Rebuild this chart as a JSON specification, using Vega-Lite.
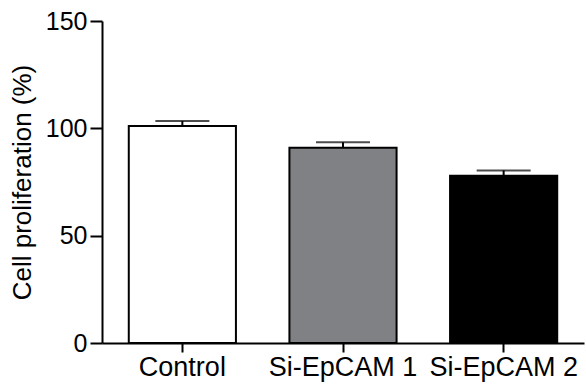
{
  "$schema": "https://vega.github.io/schema/vega-lite/v6.json",
  "autosize": "none",
  "padding": {"left": 102, "top": 21, "right": 2, "bottom": 46},
  "width": 482,
  "height": 322,
  "background": "white",
  "config": {
    "view": {"stroke": null},
    "font": "Liberation Sans",
    "axis": {"grid": false, "domainColor": "black", "domainWidth": 2, "tickColor": "black", "tickWidth": 2, "labelColor": "black", "titleColor": "black", "labelFont": "Liberation Sans", "titleFont": "Liberation Sans", "titleFontWeight": "normal"}
  },
  "data": {
    "values": [
      {"group": "Control", "mean": 101.1, "upper": 103.4},
      {"group": "Si-EpCAM 1", "mean": 91.0, "upper": 93.5},
      {"group": "Si-EpCAM 2", "mean": 77.9, "upper": 80.4}
    ]
  },
  "encoding": {
    "x": {
      "field": "group",
      "type": "nominal",
      "sort": null,
      "scale": {"paddingInner": 0.333, "paddingOuter": 0.1667},
      "axis": {"title": null, "labelAngle": 0, "labelFontSize": 27, "tickSize": 9, "labelPadding": 2}
    }
  },
  "layer": [
    {
      "mark": {"type": "rule", "stroke": "black", "strokeWidth": 2},
      "encoding": {
        "y": {"field": "mean", "type": "quantitative"},
        "y2": {"field": "upper"}
      }
    },
    {
      "mark": {"type": "tick", "color": "black", "size": 54, "thickness": 2, "orient": "horizontal"},
      "encoding": {
        "y": {"field": "upper", "type": "quantitative"}
      }
    },
    {
      "mark": {"type": "bar", "stroke": "black", "strokeWidth": 2},
      "encoding": {
        "y": {
          "field": "mean",
          "type": "quantitative",
          "scale": {"domain": [0, 150], "nice": false},
          "axis": {"title": "Cell proliferation (%)", "values": [0, 50, 100, 150], "labelFontSize": 25, "titleFontSize": 26, "tickSize": 12, "labelPadding": 3, "titlePadding": 10}
        },
        "fill": {
          "field": "group",
          "type": "nominal",
          "scale": {"domain": ["Control", "Si-EpCAM 1", "Si-EpCAM 2"], "range": ["#ffffff", "#808184", "#000000"]},
          "legend": null
        }
      }
    }
  ]
}
